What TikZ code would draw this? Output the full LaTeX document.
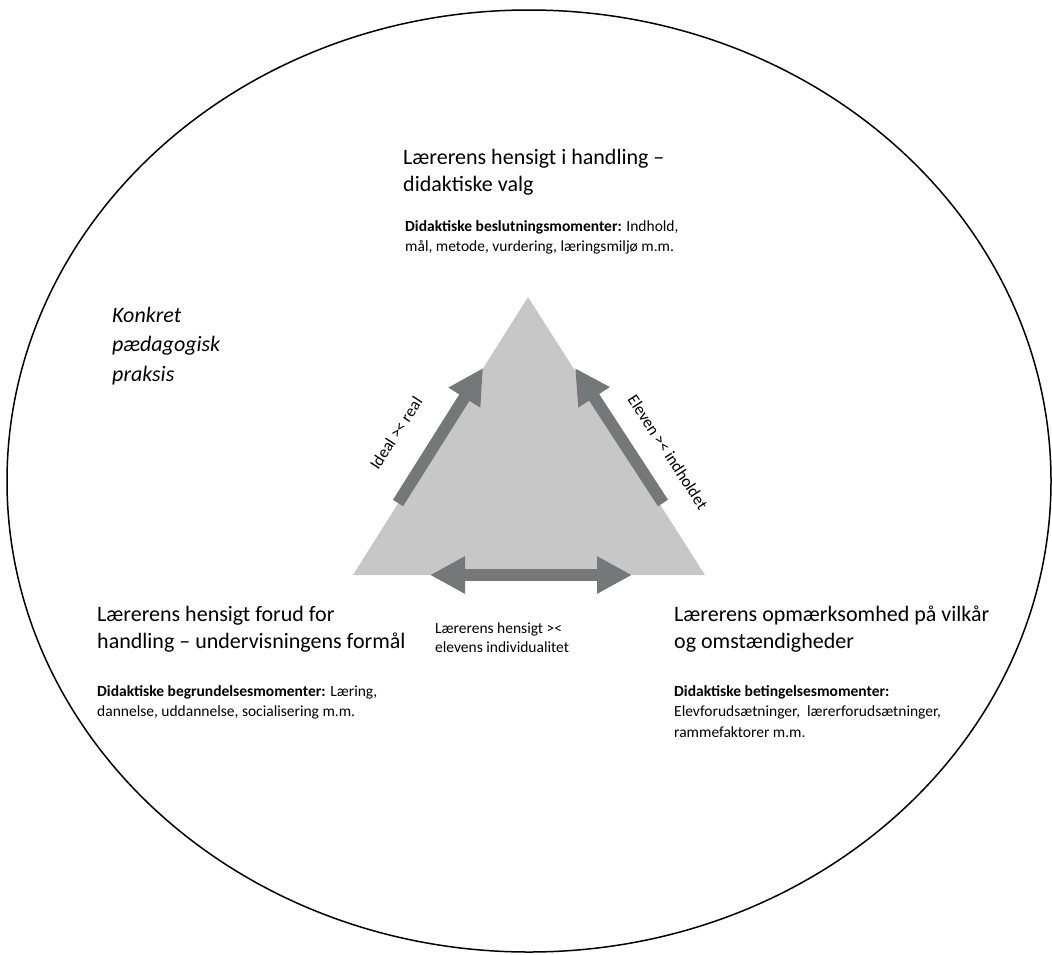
\documentclass[tikz,border=0pt]{standalone}
\usepackage{fontspec}
\setmainfont{Carlito}
\usepackage{xcolor}
\usetikzlibrary{arrows.meta,positioning}
\definecolor{trifill}{RGB}{200,199,200}
\definecolor{arrowgray}{RGB}{117,120,120}

\begin{document}
\begin{tikzpicture}[x=1pt, y=-1pt,
  title/.style={anchor=north west, inner sep=0pt, align=left,
                font=\fontsize{22}{27}\selectfont},
  body/.style={anchor=north west, inner sep=0pt, align=left,
               font=\fontsize{15.5}{20.5}\selectfont},
  pull/.style={draw=arrowgray, line width=12pt,
               -{Triangle[length=35pt, width=35pt]}},
  dpull/.style={draw=arrowgray, line width=12pt,
                {Triangle[length=35pt, width=35pt]}-{Triangle[length=35pt, width=35pt]}},
  lbl/.style={font=\fontsize{16.5}{19}\selectfont, inner sep=0pt}
]
\useasboundingbox (0,0) rectangle (1052,954);
% Praksis
\draw[line width=1.5pt] (529,481) ellipse [x radius=522pt, y radius=471pt];
\node[title, font=\fontsize{22}{29.5}\selectfont\itshape] (praksis) at (112,307)
  {Konkret\\pædagogisk\\praksis};
% Triangle
\coordinate (apex) at (528,297);
\coordinate (bl) at (353,575);
\coordinate (br) at (705,575);
\fill[trifill] (apex) -- (bl) -- (br) -- cycle;
% Tensions
\coordinate (ltail) at (398,503);
\coordinate (ltip) at (483,368);
\coordinate (rtail) at (663,503);
\coordinate (rtip) at (575,368);
\coordinate (bleft) at (430,575);
\coordinate (bright) at (632,575);
\draw[pull] (ltail) -- (ltip);
\draw[pull] (rtail) -- (rtip);
\draw[dpull] (bleft) -- (bright);
\node[lbl, rotate=57] (idealreal) at (396,433) {Ideal >< real};
\node[lbl, rotate=-57] (elevind) at (668,452) {Eleven >< indholdet};
% Top corner
\node[title] (hensigt) at (403,149) {Lærerens hensigt i handling –\\didaktiske valg};
\node[body] (beslut) at (405,220)
  {\textbf{Didaktiske beslutningsmomenter:} Indhold,\\mål, metode, vurdering, læringsmiljø m.m.};
% Left corner
\node[title] (forud) at (97,606) {Lærerens hensigt forud for\\handling – undervisningens formål};
\node[body] (begrund) at (97,685)
  {\textbf{Didaktiske begrundelsesmomenter:} Læring,\\dannelse, uddannelse, socialisering m.m.};
% Right corner
\node[title] (opmaerk) at (674,606) {Lærerens opmærksomhed på vilkår\\og omstændigheder};
\node[body] (beting) at (674,685)
  {\textbf{Didaktiske betingelsesmomenter:}\\Elevforudsætninger,\ \ lærerforudsætninger,\\rammefaktorer m.m.};
% Bottom edge
\node[body, font=\fontsize{15.5}{18.5}\selectfont] (individ) at (435,623)
  {Lærerens hensigt ><\\elevens individualitet};
\end{tikzpicture}
\end{document}
